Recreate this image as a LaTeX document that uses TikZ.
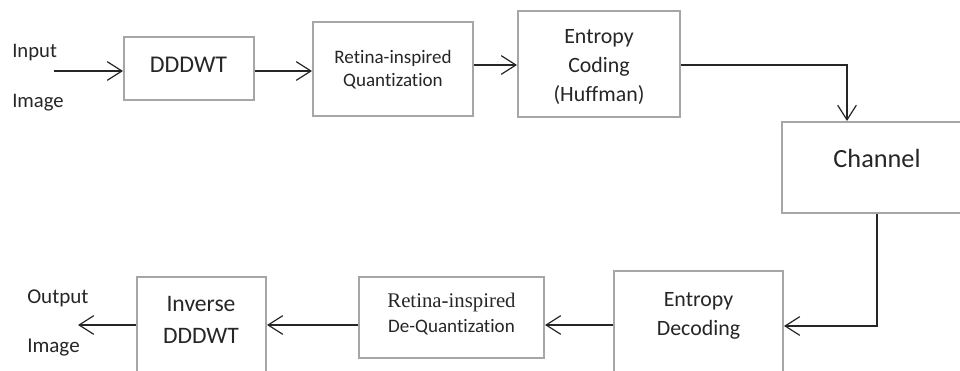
\documentclass[tikz,border=0pt]{standalone}
\usepackage{fontspec}
\setmainfont[Ligatures=NoCommon]{Carlito}
\newfontfamily\tnr{Liberation Serif}
\usetikzlibrary{arrows.meta}
\definecolor{boxgray}{HTML}{A6A6A6}
\definecolor{linegray}{HTML}{262626}
\begin{document}
\begin{tikzpicture}[x=0.75pt,y=-0.75pt,
  box/.style={draw=boxgray,line width=1.5pt,inner sep=0pt},
  conn/.style={line width=0.9pt,draw=linegray,-{Straight Barb[length=11pt,width=14pt,line width=0.9pt]}},
  lbl/.style={inner sep=0pt,text=black!85,align=center}]
\useasboundingbox (0,0) rectangle (960,371);
\clip (0,0) rectangle (960,371);
% boxes
\node[box,minimum width=97.5pt,minimum height=47.25pt] (dddwt) at (189,68.5) {};
\node[box,minimum width=120pt,minimum height=70.5pt] (quant) at (393,69) {};
\node[box,minimum width=121.5pt,minimum height=79.5pt] (ec) at (599,64) {};
\node[box,minimum width=144pt,minimum height=68.25pt] (channel) at (878,167.5) {};
\node[box,minimum width=126.75pt,minimum height=111.75pt] (ed) at (698.5,345.5) {};
\node[box,minimum width=138.75pt,minimum height=60.75pt] (dq) at (451.5,317.5) {};
\node[box,minimum width=96.75pt,minimum height=107.25pt] (inv) at (201.5,348.5) {};
% texts (anchor=base is the baseline of the last line)
\node[lbl,anchor=base,font=\fontsize{18}{22}\selectfont] (t1) at (188.5,72.7) {DDDWT};
\node[lbl,anchor=base,font=\fontsize{14.3}{17.25}\selectfont] (t2) at (393,86) {Retina-inspired\\Quantization};
\node[lbl,anchor=base,font=\fontsize{16.4}{21.75}\selectfont] (t3) at (599,101) {Entropy\\Coding\\(Huffman)};
\node[lbl,anchor=base,font=\fontsize{19.7}{24}\selectfont] (t4) at (877,167) {Channel};
\node[lbl,anchor=base,font=\fontsize{16.4}{21.75}\selectfont] (t5) at (698.5,335) {Entropy\\Decoding};
\node[lbl,anchor=base,font=\fontsize{14.3}{18.75}\selectfont] (t6) at (451.5,332) {{\tnr\fontsize{15.6}{18.75}\selectfont Retina-inspired}\\De-Quantization};
\node[lbl,anchor=base,font=\fontsize{17.7}{24}\selectfont] (t7) at (201,343) {Inverse\\DDDWT};
\node[lbl,anchor=base west,font=\fontsize{15.5}{18}\selectfont] (inl) at (12,57) {Input};
\node[lbl,anchor=base west,font=\fontsize{15.5}{18}\selectfont] (iml) at (12,107) {Image};
\node[lbl,anchor=base west,font=\fontsize{15.8}{18}\selectfont] (outl) at (27,303) {Output};
\node[lbl,anchor=base west,font=\fontsize{15.8}{18}\selectfont] (om) at (27,352) {Image};
% connectors
\coordinate (in) at (54,71);
\coordinate (r1) at (0,65);
\coordinate (c1) at (847,0);
\coordinate (c2) at (877,326);
\coordinate (b1) at (0,325);
\coordinate (out) at (78,325);
\draw[conn] (in) -- (in -| dddwt.west);
\draw[conn] (dddwt.east |- in) -- (quant.west |- in);
\draw[conn] (quant.east |- r1) -- (ec.west |- r1);
\draw[conn] (ec.east |- r1) -| (c1 |- channel.north);
\draw[conn] (c2 |- channel.south) |- (ed.east |- c2);
\draw[conn] (ed.west |- b1) -- (dq.east |- b1);
\draw[conn] (dq.west |- b1) -- (inv.east |- b1);
\draw[conn] (inv.west |- b1) -- (out);
\end{tikzpicture}
\end{document}
